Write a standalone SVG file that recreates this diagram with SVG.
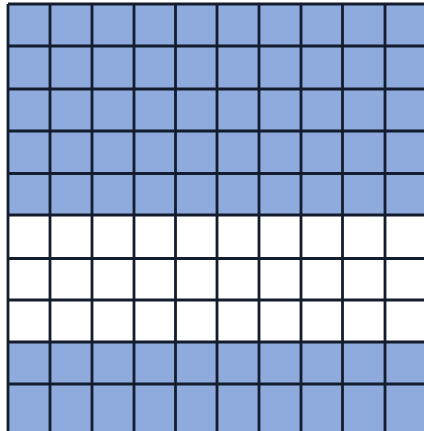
<svg xmlns="http://www.w3.org/2000/svg" width="424" height="431" viewBox="0 0 424 431">
<style>
.b{fill:#8faadc}
.g{stroke:#131d2e;stroke-width:2.8;fill:none}
</style>
<rect x="0" y="0" width="424" height="431" fill="#ffffff"/>
<rect class="b" x="8" y="4" width="416" height="211"/>
<rect class="b" x="8" y="342" width="416" height="89"/>
<g class="g">
<path d="M8 4V431M50 4V431M92 4V431M134 4V431M175.5 4V431M217 4V431M259 4V431M301 4V431M342.5 4V431M385 4V431"/>
<path d="M8 4H424M8 46H424M8 89H424M8 131H424M8 173.5H424M8 215H424M8 258.5H424M8 300H424M8 342H424M8 384H424"/>
</g>
</svg>
